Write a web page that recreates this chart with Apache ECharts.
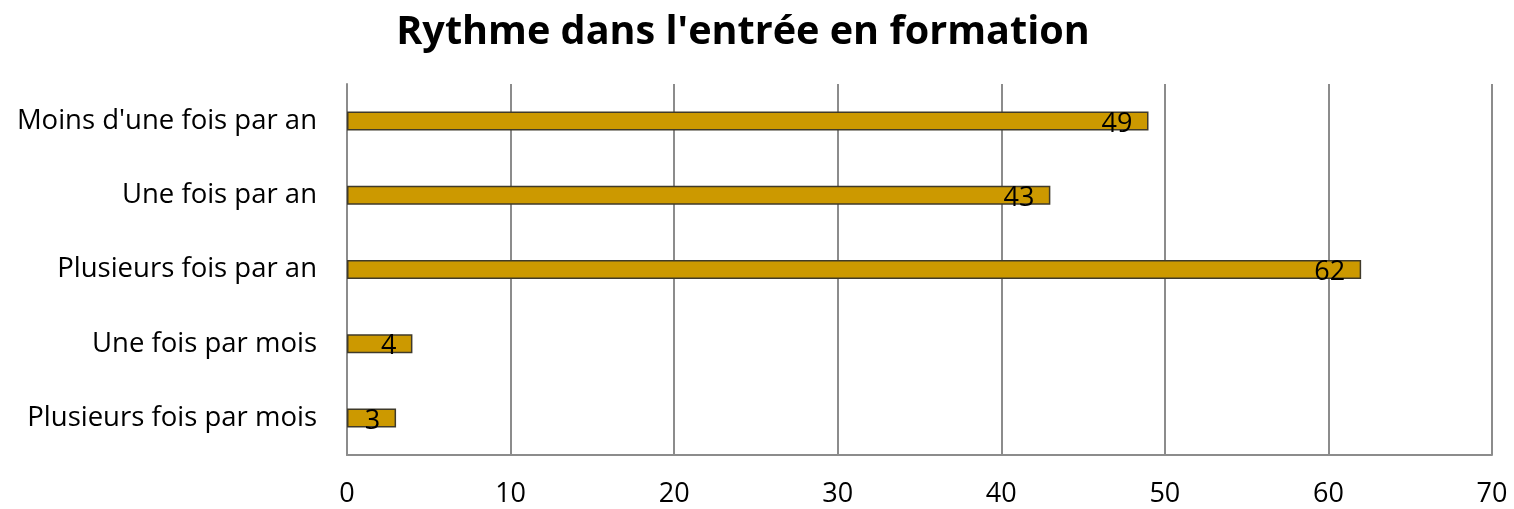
<!DOCTYPE html>
<html>
<head>
<meta charset="utf-8">
<script src="https://cdn.jsdelivr.net/npm/echarts@6/dist/echarts.min.js"></script>
<style>
html,body{margin:0;padding:0;background:#fff;}
#main{width:1514px;height:509px;}
</style>
</head>
<body>
<div id="main"></div>
<script>
// données du graphique
var categories = ['Plusieurs fois par mois', 'Une fois par mois', 'Plusieurs fois par an', 'Une fois par an', "Moins d'une fois par an"];
var values = [3, 4, 62, 43, 49];
var xTicks = [0, 10, 20, 30, 40, 50, 60, 70];

var font = 'Open Sans';
var myChart = echarts.init(document.getElementById('main'));
myChart.setOption({
	animation: false,
	title: {
		text: "Rythme dans l'entrée en formation",
		left: 738,
		textAlign: 'center',
		top: 8,
		textStyle: { fontFamily: font, fontSize: 39.6, fontWeight: 'bold', color: '#000' }
	},
	grid: { left: 347, right: 22, top: 84, bottom: 54, containLabel: false },
	xAxis: {
		type: 'value',
		min: xTicks[0],
		max: xTicks[xTicks.length - 1],
		interval: 10,
		axisLine: { show: true, lineStyle: { color: '#8c8c8c', width: 2 } },
		axisTick: { show: false },
		axisLabel: { fontFamily: font, fontSize: 27, color: '#000', margin: 26 },
		splitLine: { show: true, lineStyle: { color: '#8c8c8c', width: 2 } }
	},
	yAxis: {
		type: 'category',
		data: categories,
		axisLine: { show: true, lineStyle: { color: '#8c8c8c', width: 2 } },
		axisTick: { show: false },
		axisLabel: { fontFamily: font, fontSize: 27.5, color: '#000', margin: 30 }
	},
	series: [{
		type: 'bar',
		data: values,
		barWidth: 19,
		itemStyle: { color: '#cc9900', borderColor: '#3f3a2a', borderWidth: 1.5 },
		label: {
			show: true,
			position: 'insideRight',
			distance: 16,
			offset: [0, 3],
			fontFamily: font,
			fontSize: 27,
			color: '#000'
		}
	}]
});
</script>
</body>
</html>
